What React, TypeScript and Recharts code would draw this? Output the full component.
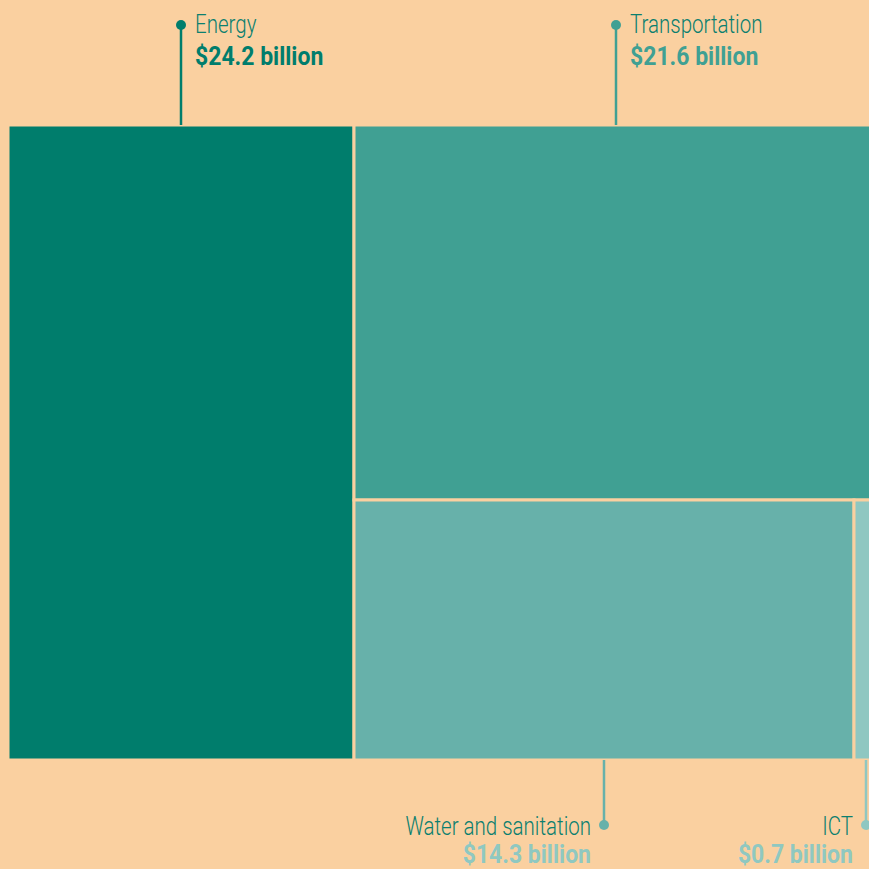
import React from 'react'
import { Treemap } from 'recharts'

const BG = '#FAD0A0'
const NAME_COLOR = '#0B7F6F'
const FONT = 'Roboto, "DejaVu Sans Condensed", sans-serif'

const SECTORS = ['Energy', 'Transportation', 'Water and sanitation', 'ICT']
const INVESTMENT = [24.2, 21.6, 14.3, 0.7]
const CELL_COLORS = ['#007D6C', '#40A093', '#67B1AA', '#8FC7C1']
const VALUE_COLORS = ['#007D6C', '#40A093', '#8FC8C1', '#8FC8C1']

const data = SECTORS.map((name, i) => ({ name, size: INVESTMENT[i], idx: i }))

const MAP_W = 870
const MAP_H = 635

// condensed look: squeeze the text horizontally
function Label({ x, y, anchor, color, size, weight, squeeze, children }: any) {
  return (
    <text
      transform={`translate(${x},${y}) scale(${squeeze},1)`}
      textAnchor={anchor}
      fill={color}
      fontSize={size}
      fontWeight={weight}
      fontFamily={FONT}
    >
      {children}
    </text>
  )
}

function SectorCell(props: any) {
  const { x, y, width, height, depth, idx, name } = props
  if (depth !== 1) return <g />
  const cx = x + width / 2
  const above = y === 0
  const fill = CELL_COLORS[idx]
  const value = `$${INVESTMENT[idx].toFixed(1)} billion`
  return (
    <g>
      <rect x={x} y={y} width={width} height={height} fill={fill} stroke={BG} strokeWidth={3} />
      {above ? (
        <g>
          <line x1={cx} y1={-100} x2={cx} y2={0} stroke={fill} strokeWidth={2.5} />
          <circle cx={cx} cy={-100} r={5} fill={fill} />
          <Label x={cx + 14} y={-92} anchor="start" color={NAME_COLOR} size={25} weight={300} squeeze={0.82}>{name}</Label>
          <Label x={cx + 14} y={-60} anchor="start" color={VALUE_COLORS[idx]} size={25} weight={700} squeeze={0.92}>{value}</Label>
        </g>
      ) : (
        <g>
          <line x1={cx} y1={y + height} x2={cx} y2={700} stroke={fill} strokeWidth={2.5} />
          <circle cx={cx} cy={700} r={5} fill={fill} />
          <Label x={cx - 13} y={710} anchor="end" color={NAME_COLOR} size={25} weight={300} squeeze={0.82}>{name}</Label>
          <Label x={cx - 13} y={738} anchor="end" color={VALUE_COLORS[idx]} size={25} weight={700} squeeze={0.92}>{value}</Label>
        </g>
      )}
    </g>
  )
}

export default function App() {
  return (
    <div style={{ position: 'fixed', left: 0, top: 0, width: 869, height: 869, overflow: 'hidden', background: BG }}>
      <style>{`html, body { background: ${BG}; } .recharts-surface { overflow: visible; }`}</style>
      <div style={{ position: 'absolute', left: 8, top: 125, width: MAP_W, height: MAP_H }}>
        <Treemap
          width={MAP_W}
          height={MAP_H}
          data={data}
          dataKey="size"
          nameKey="name"
          aspectRatio={0.5}
          isAnimationActive={false}
          content={<SectorCell />}
        />
      </div>
    </div>
  )
}
